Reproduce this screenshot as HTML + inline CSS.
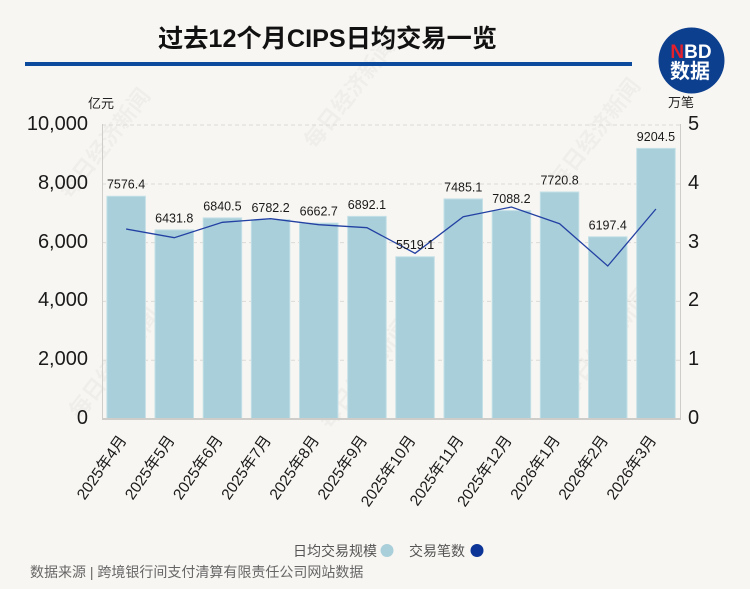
<!DOCTYPE html>
<html><head><meta charset="utf-8"><style>
html,body{margin:0;padding:0;background:#f8f6f2;width:750px;height:589px;overflow:hidden;}
svg{display:block;}
text{font-family:"Liberation Sans","Noto Sans CJK SC",sans-serif;}
</style></head><body>
<svg width="750" height="589" viewBox="0 0 750 589" xmlns="http://www.w3.org/2000/svg" overflow="hidden">
<rect width="750" height="589" fill="#f8f6f2"/>
<!-- watermarks -->
<g fill="#000" fill-opacity="0.03" font-size="22" font-weight="bold">
<text transform="translate(70,200) rotate(-52)">每日经济新闻</text>
<text transform="translate(315,150) rotate(-52)">每日经济新闻</text>
<text transform="translate(560,190) rotate(-52)">每日经济新闻</text>
<text transform="translate(80,420) rotate(-52)">每日经济新闻</text>
<text transform="translate(330,430) rotate(-52)">每日经济新闻</text>
<text transform="translate(570,400) rotate(-52)">每日经济新闻</text>
</g>
<!-- title -->
<text x="158" y="47" font-size="25" font-weight="bold" fill="#111" textLength="339" lengthAdjust="spacingAndGlyphs">过去12个月CIPS日均交易一览</text>
<rect x="25" y="62" width="607" height="4" fill="#0b4a9c"/>
<!-- logo -->
<circle cx="691.5" cy="60.5" r="33" fill="#0d3f8f"/>
<text x="691" y="58" font-size="19" font-weight="bold" text-anchor="middle" fill="#fff"><tspan fill="#e3202b">N</tspan>BD</text>
<text x="690" y="78" font-size="20" font-weight="bold" text-anchor="middle" fill="#fff">数据</text>
<!-- units -->
<text x="88" y="108" font-size="13" fill="#222">亿元</text>
<text x="668" y="107" font-size="13" fill="#222">万笔</text>
<!-- grid -->
<g stroke="#dcdad6" stroke-width="1" stroke-dasharray="4,3">
<line x1="102" y1="125" x2="680" y2="125"/>
<line x1="102" y1="184" x2="680" y2="184"/>
<line x1="102" y1="242.6" x2="680" y2="242.6"/>
<line x1="102" y1="301.4" x2="680" y2="301.4"/>
<line x1="102" y1="360.2" x2="680" y2="360.2"/>
</g>
<line x1="102.5" y1="124" x2="102.5" y2="419" stroke="#cfcdc9" stroke-width="1"/>
<line x1="680.5" y1="124" x2="680.5" y2="419" stroke="#cfcdc9" stroke-width="1"/>
<!-- y labels -->
<g font-size="20" fill="#1a1a1a" text-anchor="end">
<text x="88" y="130">10,000</text>
<text x="88" y="189">8,000</text>
<text x="88" y="248">6,000</text>
<text x="88" y="306">4,000</text>
<text x="88" y="365">2,000</text>
<text x="88" y="424">0</text>
</g>
<g font-size="20" fill="#1a1a1a">
<text x="688" y="130">5</text>
<text x="688" y="189">4</text>
<text x="688" y="248">3</text>
<text x="688" y="306">2</text>
<text x="688" y="365">1</text>
<text x="688" y="424">0</text>
</g>
<!-- bars -->
<g fill="#a9cfda" stroke="#c3e0e7" stroke-width="1">
<rect x="106.9" y="196.25" width="38.5" height="222.75"/>
<rect x="155.0" y="229.91" width="38.5" height="189.09"/>
<rect x="203.2" y="217.89" width="38.5" height="201.11"/>
<rect x="251.3" y="219.60" width="38.5" height="199.40"/>
<rect x="299.5" y="223.12" width="38.5" height="195.88"/>
<rect x="347.7" y="216.37" width="38.5" height="202.63"/>
<rect x="395.8" y="256.74" width="38.5" height="162.26"/>
<rect x="444.0" y="198.94" width="38.5" height="220.06"/>
<rect x="492.2" y="210.61" width="38.5" height="208.39"/>
<rect x="540.3" y="192.01" width="38.5" height="226.99"/>
<rect x="588.5" y="236.80" width="38.5" height="182.20"/>
<rect x="636.7" y="148.39" width="38.5" height="270.61"/>
</g>
<line x1="102" y1="419" x2="681" y2="419" stroke="#cfcdc9" stroke-width="2"/>
<!-- line -->
<polyline fill="none" stroke="#2341a3" stroke-width="1.3" points="126.08,229 174.25,237.7 222.42,222.3 270.58,218.7 318.75,224.7 366.92,227.7 415.08,253.3 463.25,216.7 511.42,207 559.58,223.7 607.75,266 655.92,209"/>
<!-- value labels -->
<g font-size="12.5" fill="#1a1a1a" text-anchor="middle">
<text x="126.08" y="188.7">7576.4</text>
<text x="174.25" y="222.4">6431.8</text>
<text x="222.42" y="210.4">6840.5</text>
<text x="270.58" y="212.1">6782.2</text>
<text x="318.75" y="215.6">6662.7</text>
<text x="366.92" y="208.9">6892.1</text>
<text x="415.08" y="249.2">5519.1</text>
<text x="463.25" y="191.4">7485.1</text>
<text x="511.42" y="203.1">7088.2</text>
<text x="559.58" y="184.5">7720.8</text>
<text x="607.75" y="229.3">6197.4</text>
<text x="655.92" y="140.9">9204.5</text>
</g>
<!-- x labels -->
<g font-size="15.5" fill="#1a1a1a" text-anchor="end">
<text transform="translate(127.1,440) rotate(-55)">2025年4月</text>
<text transform="translate(175.3,440) rotate(-55)">2025年5月</text>
<text transform="translate(223.4,440) rotate(-55)">2025年6月</text>
<text transform="translate(271.6,440) rotate(-55)">2025年7月</text>
<text transform="translate(319.8,440) rotate(-55)">2025年8月</text>
<text transform="translate(367.9,440) rotate(-55)">2025年9月</text>
<text transform="translate(416.1,440) rotate(-55)">2025年10月</text>
<text transform="translate(464.3,440) rotate(-55)">2025年11月</text>
<text transform="translate(512.4,440) rotate(-55)">2025年12月</text>
<text transform="translate(560.6,440) rotate(-55)">2026年1月</text>
<text transform="translate(608.8,440) rotate(-55)">2026年2月</text>
<text transform="translate(656.9,440) rotate(-55)">2026年3月</text>
</g>
<!-- legend -->
<text x="293" y="556" font-size="14" fill="#555">日均交易规模</text>
<ellipse cx="387" cy="550.5" rx="6.5" ry="6.5" fill="#a9cfda"/>
<text x="409" y="556" font-size="14" fill="#555">交易笔数</text>
<ellipse cx="477" cy="550.5" rx="6.5" ry="6.5" fill="#0d3597"/>
<!-- footer -->
<text x="30" y="577" font-size="14" fill="#666">数据来源 | 跨境银行间支付清算有限责任公司网站数据</text>
</svg>
</body></html>
